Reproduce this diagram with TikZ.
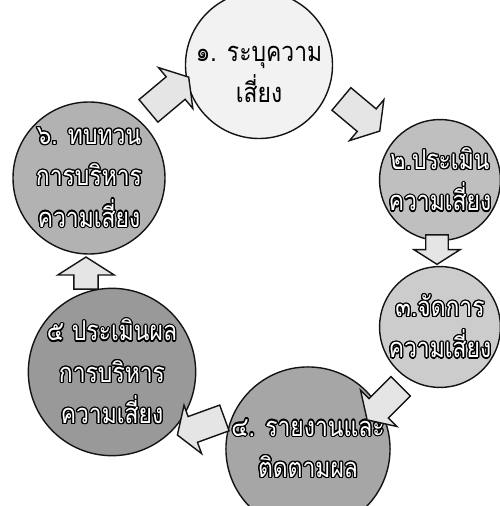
\documentclass[tikz,border=0pt]{standalone}
\usepackage{fontspec}
\newfontfamily\thaifont[Script=Thai,FakeStretch=0.84]{Loma}
\usepackage{contour}
\contourlength{0.7pt}
\usetikzlibrary{shapes.arrows}
\definecolor{ink}{RGB}{20,20,20}
\tikzset{
  stage/.style={circle,draw=ink,thick,fill=#1,align=center,
    font=\thaifont\fontsize{15.5}{23.5}\selectfont,inner sep=0pt},
  stage/.default=gray!10,
  turn/.style={single arrow,draw=ink,thick,fill=gray!20,inner sep=#1,
    single arrow tip angle=115,single arrow head extend=0.24cm},
  turn/.default=0.22cm,
}
\newcommand{\hollow}[1]{\contour{black}{\textcolor{white}{#1}}}

\begin{document}
\begin{tikzpicture}
  \useasboundingbox (0,0) rectangle (10,10.12);
  \begin{scope}
    \clip (0,0) rectangle (10,10.12);
    % stages of the cycle
    \node[stage=gray!10,minimum size=2.4cm] (s1) at (5.18,8.82) {\\[-4pt]๑. ระบุความ\\เสี่ยง};
    \node[stage=gray!50,minimum size=2.4cm] (s2) at (8.8,6.52) {\hollow{๒.ประเมิน}\\\hollow{ความเสี่ยง}};
    \node[stage=gray!40,minimum size=2.3cm] (s3) at (8.8,3.58) {\hollow{๓.จัดการ}\\\hollow{ความเสี่ยง}};
    \node[stage=gray!70,minimum size=2.84cm] (s4) at (6.16,1.14) {\hollow{๔. รายงานและ}\\\hollow{ติดตามผล}};
    \node[stage=gray!80,minimum size=2.8cm] (s5) at (2.24,2.68) {\hollow{๕ ประเมินผล}\\\hollow{การบริหาร}\\\hollow{ความเสี่ยง}};
    \node[stage=gray!60,minimum size=3.04cm] (s6) at (1.78,6.56) {\hollow{๖. ทบทวน}\\\hollow{การบริหาร}\\\hollow{ความเสี่ยง}};
  \end{scope}
  % block arrows between stages
  \node[turn=0.28cm,minimum height=1.05cm,rotate=40] (a61) at (3.3,8.18) {};
  \node[turn=0.28cm,minimum height=1.0cm,rotate=-40] (a12) at (7.14,7.88) {};
  \node[turn=0.21cm,minimum height=0.58cm,rotate=-90] (a23) at (8.74,5.2) {};
  \node[turn=0.26cm,minimum height=0.95cm,rotate=-135] (a34) at (7.74,2.12) {};
  \node[turn=0.26cm,minimum height=1.0cm,rotate=200] (a45) at (4.1,1.62) {};
  \node[turn=0.23cm,minimum height=0.58cm,rotate=90,single arrow head extend=0.32cm] (a56) at (1.72,4.58) {};
\end{tikzpicture}
\end{document}
